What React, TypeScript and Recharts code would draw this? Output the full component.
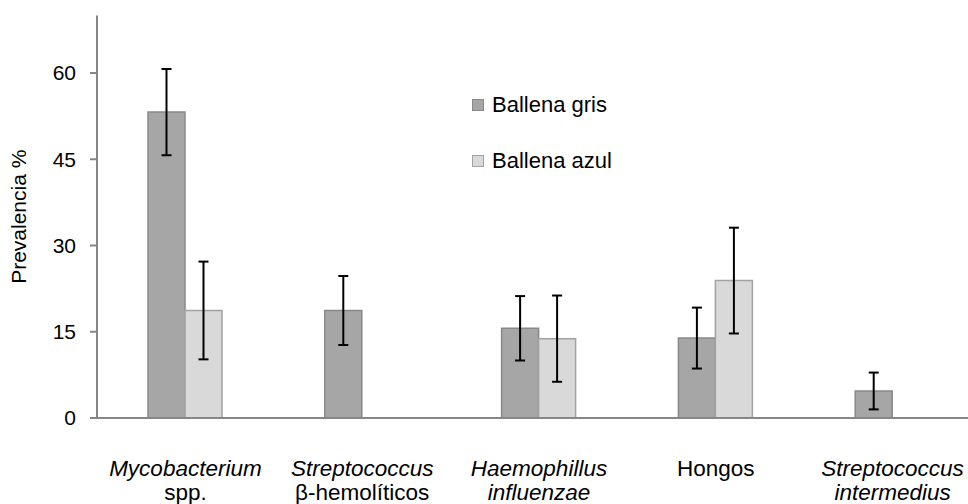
import React from 'react';
import { BarChart, Bar, XAxis, YAxis, ErrorBar, Legend, Label } from 'recharts';

const categories = ['Mycobacterium spp.', 'Streptococcus β-hemolíticos', 'Haemophillus influenzae', 'Hongos', 'Streptococcus intermedius'];
const labelLine1 = ['Mycobacterium', 'Streptococcus', 'Haemophillus', 'Hongos', 'Streptococcus'];
const labelLine2 = ['spp.', 'β-hemolíticos', 'influenzae', '', 'intermedius'];
const italic1 = [true, true, true, false, true];
const italic2 = [false, false, true, false, true];

const grisValues = [53.2, 18.7, 15.6, 13.9, 4.7];
const grisErrors = [7.5, 6.0, 5.6, 5.3, 3.2];
const azulValues: (number | null)[] = [18.7, null, 13.8, 23.9, null];
const azulErrors: (number | null)[] = [8.5, null, 7.5, 9.2, null];

const yTicks = [0, 15, 30, 45, 60];

const seriesNames = ['Ballena gris', 'Ballena azul'];
const seriesFill = ['#a6a6a6', '#d9d9d9'];
const seriesStroke = ['#898989', '#a3a3a3'];

const data = categories.map((c, i) => ({
  name: c,
  gris: grisValues[i],
  grisErr: grisErrors[i],
  azul: azulValues[i],
  azulErr: azulErrors[i],
}));

const FONT = "'Liberation Sans', Arial, sans-serif";
const AXIS = '#878787';

const CatTick = (props: any) => {
  const { x, y, payload } = props;
  const i = payload.index;
  return (
    <g>
      <text x={x} y={y} dy={58} textAnchor="middle" fontFamily={FONT} fontSize={22.5} fill="#000"
        fontStyle={italic1[i] ? 'italic' : 'normal'}>{labelLine1[i]}</text>
      {labelLine2[i] ? (
        <text x={x} y={y} dy={82} textAnchor="middle" fontFamily={FONT} fontSize={22.5} fill="#000"
          fontStyle={italic2[i] ? 'italic' : 'normal'}>{labelLine2[i]}</text>
      ) : null}
    </g>
  );
};

const LegendContent = () => (
  <div style={{ fontFamily: FONT, fontSize: 22, color: '#000' }}>
    {seriesNames.map((n, i) => (
      <div key={n} style={{ display: 'flex', alignItems: 'center', height: 26, marginBottom: i === 0 ? 30 : 0 }}>
        <div style={{ width: 10, height: 10, background: seriesFill[i], border: `1px solid ${seriesStroke[i]}`, marginRight: 8 }} />
        <span>{n}</span>
      </div>
    ))}
  </div>
);

export default function App() {
  return (
    <div style={{ position: 'fixed', left: 0, top: 0, width: 968, height: 504, overflow: 'hidden', background: '#fff' }}>
      <BarChart width={990} height={504} data={data}
        margin={{ top: 15.5, right: 9, left: 0, bottom: 56 }}
        barCategoryGap={51} barGap={0}>
        <XAxis dataKey="name" tick={<CatTick />} tickLine={false} tickSize={0} tickMargin={0}
          axisLine={{ stroke: AXIS, strokeWidth: 2 }} interval={0} height={30} />
        <YAxis domain={[0, 70]} ticks={yTicks} width={97} tickSize={7} tickMargin={14}
          axisLine={{ stroke: AXIS, strokeWidth: 2 }} tickLine={{ stroke: AXIS, strokeWidth: 2 }}
          tick={{ fontFamily: FONT, fontSize: 21, fill: '#000' }} allowDataOverflow>
          <Label value="Prevalencia %" angle={-90} position="insideLeft" offset={19}
            style={{ textAnchor: 'middle', fontFamily: FONT, fontSize: 21, fill: '#000' }} />
        </YAxis>
        <Legend content={<LegendContent />} layout="horizontal" verticalAlign="middle" align="center"
          wrapperStyle={{ left: 472, top: 92, width: 'auto' }} />
        <Bar dataKey="gris" name={seriesNames[0]} fill={seriesFill[0]} stroke={seriesStroke[0]} strokeWidth={1.5} isAnimationActive={false}>
          <ErrorBar dataKey="grisErr" width={5} stroke="#000" strokeWidth={2} isAnimationActive={false} />
        </Bar>
        <Bar dataKey="azul" name={seriesNames[1]} fill={seriesFill[1]} stroke={seriesStroke[1]} strokeWidth={1.5} isAnimationActive={false}>
          <ErrorBar dataKey="azulErr" width={5} stroke="#000" strokeWidth={2} isAnimationActive={false} />
        </Bar>
      </BarChart>
    </div>
  );
}
